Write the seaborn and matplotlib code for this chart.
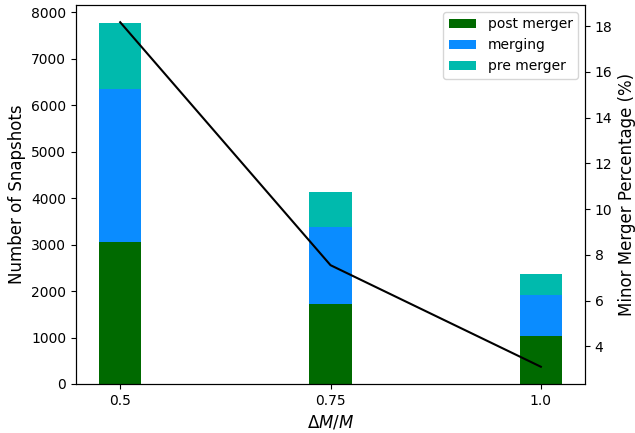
import matplotlib
matplotlib.use("Agg")
import matplotlib.pyplot as plt
import seaborn as sns
import pandas as pd
import numpy as np

# Mass-ratio threshold bins
mass_ratio = [0.5, 0.75, 1.0]
mass_ratio_labels = ["0.5", "0.75", "1.0"]

# Snapshot counts per merger phase
post_merger = [3050, 1725, 1030]
merging = [3300, 1655, 885]
pre_merger = [1420, 750, 450]

# Minor merger percentage per bin
minor_pct = [18.17, 7.55, 3.11]

colors = {"post merger": "#006a00", "merging": "#0a8cff", "pre merger": "#00baad"}

plt.rcParams["font.family"] = ["DejaVu Sans"]

fig, ax = plt.subplots(figsize=(6.35, 4.33), dpi=100)
fig.subplots_adjust(left=0.1197, right=0.9213, top=0.9885, bottom=0.1132)

post = np.array(post_merger)
mid = post + np.array(merging)
top = mid + np.array(pre_merger)

df = pd.DataFrame({"x": mass_ratio, "post": post, "mid": mid, "top": top})

# Stacked bars drawn as overlapping cumulative layers
bar_kw = dict(native_scale=True, width=0.2, saturation=1, linewidth=0, ax=ax)
sns.barplot(data=df, x="x", y="top", color=colors["pre merger"], label="pre merger", **bar_kw)
sns.barplot(data=df, x="x", y="mid", color=colors["merging"], label="merging", **bar_kw)
sns.barplot(data=df, x="x", y="post", color=colors["post merger"], label="post merger", **bar_kw)

ax.set_xticks(mass_ratio)
ax.set_xticklabels(mass_ratio_labels)
ax.set_xlim(0.4475, 1.0525)
ax.set_ylim(0, top.max() * 1.05)
ax.set_xlabel(r"$\Delta M/M$", fontsize=12)
ax.set_ylabel("Number of Snapshots", fontsize=12)

handles, labels = ax.get_legend_handles_labels()
order = [labels.index(n) for n in ["post merger", "merging", "pre merger"]]
ax.legend([handles[i] for i in order], [labels[i] for i in order],
          loc="upper right", fontsize=10)

ax2 = ax.twinx()
line_df = pd.DataFrame({"x": mass_ratio, "pct": minor_pct})
sns.lineplot(data=line_df, x="x", y="pct", color="black", linewidth=1.5, ax=ax2)
ax2.set_ylabel("Minor Merger Percentage (%)", fontsize=12)
ax2.set_xlim(0.4475, 1.0525)

fig.savefig("out.png", dpi=100)
